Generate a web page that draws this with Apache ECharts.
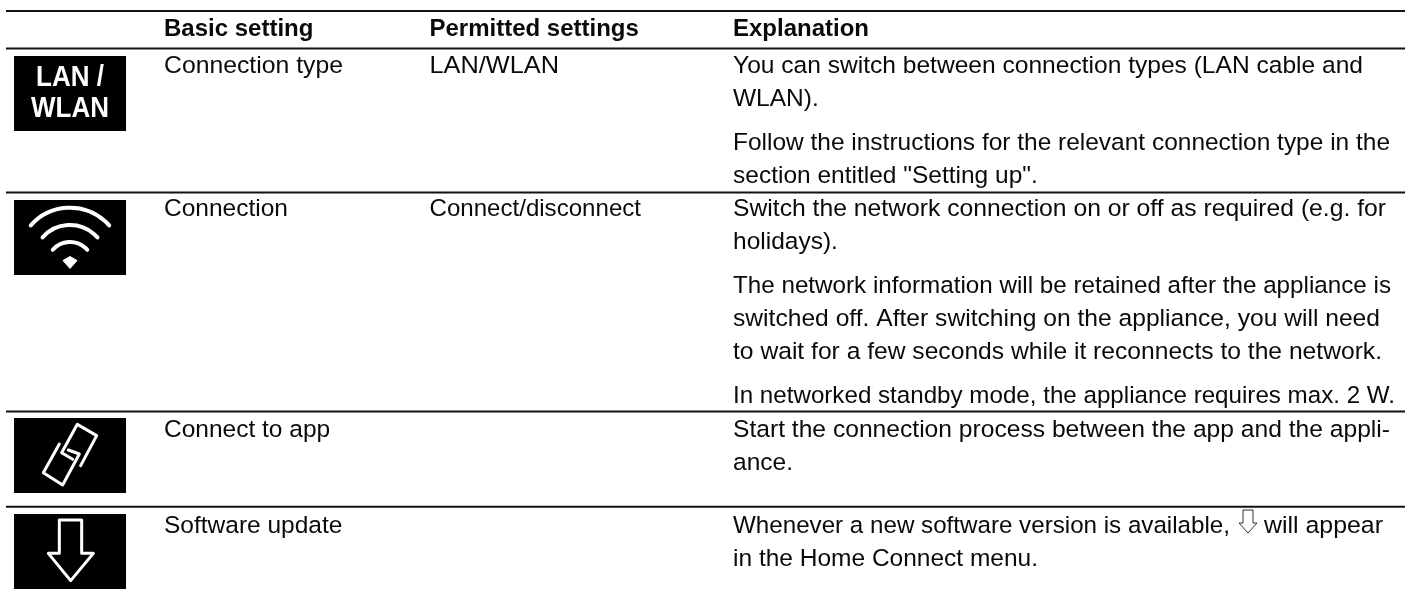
<!DOCTYPE html>
<html><head><meta charset="utf-8">
<style>html,body{margin:0;padding:0;background:#fff}#c{width:1410px;height:594px}</style>
<script src="https://cdn.jsdelivr.net/npm/echarts@6/dist/echarts.min.js"></script>
</head><body><div id="c"></div>
<script>
const headers = ['Basic setting', 'Permitted settings', 'Explanation'];
const settings = ['Connection type', 'Connection', 'Connect to app', 'Software update'];
const permitted = ['LAN/WLAN', 'Connect/disconnect', '', ''];
const explanations = [
  ['You can switch between connection types (LAN cable and', 'WLAN).', 'Follow the instructions for the relevant connection type in the', 'section entitled "Setting up".'],
  ['Switch the network connection on or off as required (e.g. for', 'holidays).', 'The network information will be retained after the appliance is', 'switched off. After switching on the appliance, you will need', 'to wait for a few seconds while it reconnects to the network.', 'In networked standby mode, the appliance requires max. 2 W.'],
  ['Start the connection process between the app and the appli-', 'ance.'],
  ['Whenever a new software version is available,', 'in the Home Connect menu.']
];
const iconCaption = ['LAN /', 'WLAN'];
const afterArrow = 'will appear';

// layout only
const FONT = '"Liberation Sans", Arial, sans-serif', FS = 24.5;
const colX = [164, 429.5, 733];
const ruleY = [11, 48.4, 192.6, 411.6, 506.8];
const rowLineY = [
  [66, 99, 143, 176],
  [209, 242, 286, 319, 352, 396],
  [430, 463],
  [526, 559]
];
const rightEnds = [
  [1363, 0, 1390, 0],
  [1386, 0, 1391, 1380, 1382, 1395],
  [1390, 0],
  [1230, 0]
];
const permittedEnds = [559, 641, 0, 0];
const iconTop = [56, 200, 418, 514];
const mc = document.createElement('canvas').getContext('2d');
const measure = (s, font) => { mc.font = font; return mc.measureText(s).width; };
const el = [];
function txt(s, x, y, opt) {
  opt = opt || {};
  const font = opt.font || (FS + 'px ' + FONT);
  const sx = opt.end ? (opt.end - x) / measure(s, font) : 1;
  el.push({type:'text', silent:true, x, y, scaleX:sx, style:{text:s, x:0, y:0, fill:opt.fill || '#0a0a0a', font, textAlign:opt.align || 'left', textVerticalAlign:'middle'}});
}
const stroke = (shape, type, lw) => ({type, silent:true, shape, style:{fill:'none', stroke:'#fff', lineWidth:lw, lineCap:'round', lineJoin:'round'}});

ruleY.forEach(y => el.push({type:'line', silent:true, shape:{x1:6, y1:y, x2:1405, y2:y}, style:{stroke:'#111', lineWidth:2}}));
headers.forEach((h,i) => txt(h, colX[i], 29.5, {font:'bold 24px '+FONT}));
settings.forEach((s,i) => { txt(s, colX[0], rowLineY[i][0], i===0?{end:343}:{}); if (permitted[i]) txt(permitted[i], colX[1], rowLineY[i][0], {end:permittedEnds[i]}); });
explanations.forEach((lines,r) => lines.forEach((l,i) => txt(l, colX[2], rowLineY[r][i], {end:rightEnds[r][i]})));
txt(afterArrow, 1264, rowLineY[3][0], {end:1383});

iconTop.forEach(t => el.push({type:'rect', silent:true, shape:{x:14, y:t, width:112, height:75}, style:{fill:'#000'}}));
// LAN / WLAN
[[0,78],[1,109]].forEach(([i,y]) => el.push({type:'text', silent:true, x:70, y, scaleY:1.1, style:{text:iconCaption[i], x:0, y:0, fill:'#fff', font:'bold 26px '+FONT, textAlign:'center', textVerticalAlign:'middle'}}));
// wifi
[[260, 52.3], [261.6, 36.6], [265, 23]].forEach(([cy, r]) => {
  const a = Math.asin(0.75);
  el.push(stroke({cx:70, cy, r, startAngle:-Math.PI/2-a, endAngle:-Math.PI/2+a, clockwise:true}, 'arc', 4));
});
el.push({type:'polygon', silent:true, shape:{points:[[63,260.5],[70,256.5],[77,260.5],[70,268.5]]}, style:{fill:'#fff', stroke:'#fff', lineWidth:1, lineJoin:'round'}});
// link
const p = pts => pts.map(([x,y]) => [x/3, 300+y/3]);
el.push(stroke({points:p([[242,497],[290,407],[232,373],[185,458],[218,478]])}, 'polyline', 3));
el.push(stroke({points:p([[178,432],[130,518],[188,555],[238,462],[205,450]])}, 'polyline', 3));
// download
el.push(stroke({points:p([[178,660],[245,660],[245,760],[280,760],[212,842],[145,760],[178,760]])}, 'polygon', 3));
// inline arrow
el.push({type:'polygon', silent:true, shape:{points:[[1243,510],[1253,510],[1253,523],[1257,523],[1248,533],[1239,523],[1243,523]]}, style:{fill:'#fff', stroke:'#333', lineWidth:1}});

const chart = echarts.init(document.getElementById('c'), null, {renderer:'canvas'});
chart.setOption({animation:false, backgroundColor:'#fff', graphic:{elements:el}});
</script></body></html>
